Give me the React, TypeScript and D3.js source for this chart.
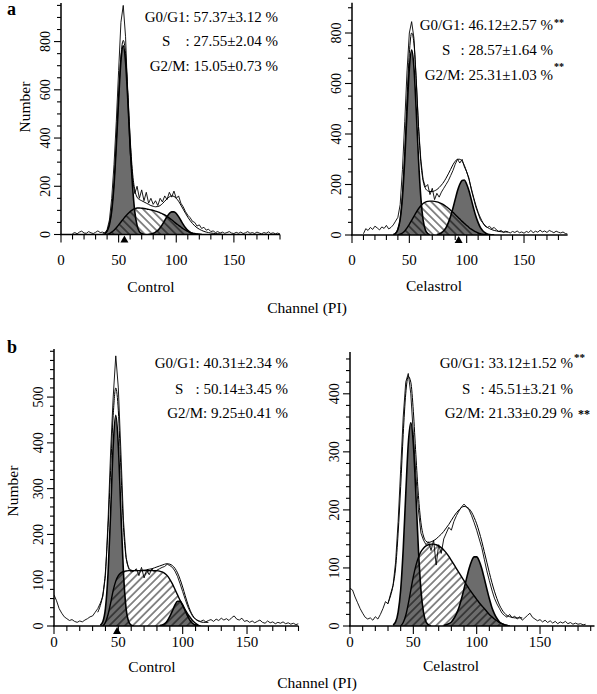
import React from 'react';
import * as d3 from 'd3';

// Channel spacing of every sampled series below
const STEP = 2;

// ---------- Panel a, Control ----------
const aCtrlRawStart = 10;
const aCtrlRaw = [4, 8, 3, 10, 14, 6, 5, 12, 7, 4, 9, 15, 8, 10, 6,
  20, 60, 150, 290, 470, 680, 880, 950, 820, 560,
  340, 230, 170, 200, 150, 185, 140, 175, 130, 150,
  125, 140, 120, 150, 135, 160, 145, 175, 155, 180,
  150, 160, 130, 115, 95, 80, 70, 55, 50, 35,
  40, 25, 30, 18, 22, 12, 15, 8, 12, 6,
  10, 5, 8, 12, 6, 4, 9, 5, 10, 4,
  7, 12, 5, 8, 4, 10, 6, 3, 8, 5,
  11, 4, 7, 3, 6, 2];
const aCtrlModelStart = 36;
const aCtrlModel = [2, 6, 16, 45, 105, 215, 380, 575, 740, 805, 750, 590, 400, 260, 185, 155, 145, 140, 135, 130,
  125, 120, 117, 115, 116, 120, 128, 138, 148, 156, 160, 158, 150, 138, 122, 105, 88, 72, 58, 46,
  36, 28, 22, 17, 13, 10, 8, 6, 5, 4, 3, 2, 1];
const aCtrlG1Start = 38;
const aCtrlG1 = [4, 14, 40, 98, 205, 370, 560, 720, 782, 715, 555, 365, 205, 95, 38, 12, 4, 0];
const aCtrlSStart = 40;
const aCtrlS = [0, 4, 10, 18, 28, 40, 52, 64, 76, 86, 95, 102, 107, 110, 110, 109, 108, 106, 104, 102,
  100, 97, 94, 90, 86, 81, 75, 68, 61, 53, 45, 38, 31, 24, 18, 13, 9, 6, 4, 2, 1, 0];
const aCtrlG2Start = 76;
const aCtrlG2 = [1, 2, 5, 10, 17, 28, 42, 58, 74, 87, 94, 94, 87, 74, 58, 42, 28, 17, 10, 5, 2, 1, 0, 0];
const aCtrlStats = ['57.37±3.12 %', '27.55±2.04 %', '15.05±0.73 %'];
const aCtrlSig = ['', '', ''];
const aCtrlMarker = 55;

// ---------- Panel a, Celastrol ----------
const aTrtRawStart = 10;
const aTrtRaw = [5, 25, 18, 30, 22, 35, 28, 20, 32, 26, 38, 24, 30, 40, 55,
  70, 120, 260, 450, 650, 800, 845, 780, 620, 430,
  300, 220, 190, 200, 160, 185, 140, 165, 150, 170,
  185, 200, 215, 235, 255, 280, 300, 285, 300, 270,
  250, 225, 180, 145, 110, 85, 60, 48, 35, 30,
  34, 25, 30, 20, 14, 18, 10, 15, 12, 8,
  14, 10, 16, 9, 12, 7, 14, 10, 18, 9,
  15, 11, 19, 12, 16, 10, 18, 14, 9, 15,
  11, 8, 12, 6, 4];
const aTrtModelStart = 36;
const aTrtModel = [3, 8, 25, 65, 165, 330, 540, 720, 800, 760, 610, 430, 290, 215, 185, 175, 172, 172, 175, 180,
  188, 198, 210, 225, 242, 260, 278, 292, 300, 300, 292, 275, 250, 220, 185, 150, 118, 90, 68, 50,
  38, 30, 25, 21, 18, 16, 14, 13, 12, 12, 12];
const aTrtG1Start = 36;
const aTrtG1 = [1, 6, 22, 62, 150, 300, 490, 660, 732, 665, 495, 300, 150, 60, 20, 6, 1];
const aTrtSStart = 40;
const aTrtS = [0, 3, 8, 16, 28, 42, 58, 74, 90, 104, 116, 125, 130, 133, 134, 134, 133, 131, 128, 124,
  119, 113, 106, 98, 90, 81, 72, 63, 54, 46, 38, 30, 23, 17, 12, 8, 5, 3, 1, 0];
const aTrtG2Start = 74;
const aTrtG2 = [2, 4, 9, 17, 29, 49, 74, 106, 141, 175, 201, 216, 218, 201, 175, 141, 106, 74, 49, 29,
  17, 9, 4, 2, 1, 0];
const aTrtStats = ['46.12±2.57 %', '28.57±1.64 %', '25.31±1.03 %'];
const aTrtSig = ['**', '', '**'];
const aTrtMarker = 93;

// ---------- Panel b, Control ----------
const bCtrlRawStart = 0;
const bCtrlRaw = [68, 55, 38, 28, 20, 16, 12, 14, 10, 8, 11, 9, 13, 16, 20, 22, 30, 38, 50, 65,
  110, 230, 380, 500, 590, 520, 380, 230, 150, 125,
  118, 120, 125, 110, 128, 105, 122, 112, 125, 118,
  122, 125, 128, 130, 135, 132, 128, 120, 108, 92,
  75, 58, 42, 30, 20, 15, 12, 10, 13, 9,
  12, 14, 10, 15, 12, 17, 13, 16, 12, 18,
  22, 15, 13, 17, 10, 12, 8, 11, 7, 10,
  13, 8, 6, 11, 7, 9, 5, 8, 6, 9,
  5, 7, 4, 6, 3, 5];
const bCtrlModelStart = 34;
const bCtrlModel = [30, 45, 70, 120, 215, 340, 460, 520, 470, 340, 215, 150, 128, 122, 121, 121, 121, 122, 122, 123,
  124, 125, 127, 129, 131, 133, 135, 136, 135, 132, 126, 116, 102, 85, 66, 48, 33, 22, 15, 11,
  9, 8, 8, 8];
const bCtrlG1Start = 36;
const bCtrlG1 = [2, 10, 39, 115, 248, 394, 460, 394, 248, 115, 39, 10, 2, 0];
const bCtrlSStart = 38;
const bCtrlS = [0, 8, 25, 50, 78, 98, 110, 116, 119, 120, 121, 121, 121, 121, 121, 121, 121, 121, 121, 121,
  121, 121, 120, 118, 115, 110, 102, 92, 80, 68, 56, 45, 35, 26, 18, 11, 6, 2, 0];
const bCtrlG2Start = 82;
const bCtrlG2 = [1, 2, 5, 11, 21, 33, 46, 54, 54, 46, 33, 21, 11, 5, 2, 1];
const bCtrlStats = ['40.31±2.34 %', '50.14±3.45 %', '9.25±0.41 %'];
const bCtrlSig = ['', '', ''];
const bCtrlMarker = 49;

// ---------- Panel b, Celastrol ----------
const bTrtRawStart = 0;
const bTrtRaw = [65, 62, 50, 40, 30, 22, 15, 12, 14, 10, 16, 12, 20, 30, 42, 38, 55, 70, 110, 180,
  270, 360, 420, 435, 400, 330, 260, 200, 160, 148,
  140, 145, 130, 148, 105, 140, 125, 150, 160, 170,
  165, 180, 190, 198, 205, 210, 205, 200, 190, 178,
  165, 150, 135, 115, 95, 78, 62, 48, 38, 30,
  22, 18, 15, 20, 14, 17, 12, 16, 10, 14,
  18, 22, 15, 12, 9, 11, 7, 10, 6, 9,
  5, 8, 4, 7, 5, 8, 4, 6, 3, 5,
  3, 4, 2, 3];
const bTrtModelStart = 30;
const bTrtModel = [40, 52, 70, 100, 160, 240, 330, 400, 430, 420, 370, 295, 225, 178, 155, 146, 144, 145, 147, 150,
  154, 158, 163, 169, 175, 182, 189, 195, 200, 204, 206, 205, 202, 196, 187, 176, 162, 146, 128, 110,
  92, 75, 60, 47, 36, 28, 22, 18, 16, 15, 14, 14, 14, 14];
const bTrtG1Start = 34;
const bTrtG1 = [2, 7, 24, 62, 132, 227, 314, 350, 314, 227, 132, 62, 24, 7, 2, 0];
const bTrtSStart = 40;
const bTrtS = [0, 6, 18, 38, 62, 85, 104, 118, 128, 134, 138, 140, 141, 141, 140, 138, 135, 131, 126, 120,
  113, 106, 99, 92, 85, 78, 71, 64, 58, 52, 46, 40, 35, 30, 25, 20, 16, 12, 9, 6,
  4, 2, 1, 0];
const bTrtG2Start = 74;
const bTrtG2 = [1, 2, 4, 7, 13, 21, 32, 47, 64, 82, 99, 112, 119, 119, 112, 99, 82, 64, 47, 32,
  21, 13, 7, 4, 2, 1, 0];
const bTrtStats = ['33.12±1.52 %', '45.51±3.21 %', '21.33±0.29 %'];
const bTrtSig = ['**', '', '**'];
const bTrtMarker: number | null = null;

// ---------- Shared labels / ticks ----------
const phaseLabels = ['G0/G1', 'S', 'G2/M'];
const xTickLabels = [0, 50, 100, 150];
const aYTicks = [0, 200, 400, 600, 800];
const bCtrlYTicks = [0, 100, 200, 300, 400, 500];
const bTrtYTicks = [0, 100, 200, 300, 400];
const groupNames = ['Control', 'Celastrol'];
const rowLetters = ['a', 'b'];
const yTitle = 'Number';
const xTitle = 'Channel (PI)';

const FONT = "'Liberation Serif', 'Times New Roman', Times, serif";
const GRAY = '#6c6c6c';

type Pt = { c: number; v: number };
const toPts = (start: number, vals: number[]): Pt[] => vals.map((v, i) => ({ c: start + i * STEP, v }));

const panels = [
  {
    id: 'aC', raw: [aCtrlRawStart, aCtrlRaw], model: [aCtrlModelStart, aCtrlModel], g1: [aCtrlG1Start, aCtrlG1],
    s: [aCtrlSStart, aCtrlS], g2: [aCtrlG2Start, aCtrlG2], stats: aCtrlStats, sig: aCtrlSig, marker: aCtrlMarker,
    yTicks: aYTicks, yMinor: 50, name: groupNames[0],
    xEnd: 190, yMax: 960, x0: 61, x1: 280, yBase: 234.5, yTop: 3, hatch: 'hatchA',
    textEnd: 278, sX: 162, textY: [22, 46, 71], sigX: [0, 0, 0], sigY: [0, 0, 0], sigSize: [10, 10, 10],
    tickDy: 30, nameX: 151, nameY: 292,
  },
  {
    id: 'aT', raw: [aTrtRawStart, aTrtRaw], model: [aTrtModelStart, aTrtModel], g1: [aTrtG1Start, aTrtG1],
    s: [aTrtSStart, aTrtS], g2: [aTrtG2Start, aTrtG2], stats: aTrtStats, sig: aTrtSig, marker: aTrtMarker,
    yTicks: aYTicks, yMinor: 50, name: groupNames[1],
    xEnd: 188, yMax: 920, x0: 352, x1: 567.6, yBase: 235, yTop: 2.7, hatch: 'hatchA',
    textEnd: 553, sX: 442, textY: [29.5, 55, 80], sigX: [554, 0, 554], sigY: [26, 0, 70], sigSize: [10, 10, 10],
    tickDy: 30, nameX: 434, nameY: 291,
  },
  {
    id: 'bC', raw: [bCtrlRawStart, bCtrlRaw], model: [bCtrlModelStart, bCtrlModel], g1: [bCtrlG1Start, bCtrlG1],
    s: [bCtrlSStart, bCtrlS], g2: [bCtrlG2Start, bCtrlG2], stats: bCtrlStats, sig: bCtrlSig, marker: bCtrlMarker,
    yTicks: bCtrlYTicks, yMinor: 20, name: groupNames[0],
    xEnd: 190, yMax: 605, x0: 54, x1: 298.5, yBase: 626, yTop: 349, hatch: 'hatchB',
    textEnd: 288, sX: 175, textY: [368, 394, 418], sigX: [0, 0, 0], sigY: [0, 0, 0], sigSize: [10, 10, 10],
    tickDy: 21, nameX: 152, nameY: 672,
  },
  {
    id: 'bT', raw: [bTrtRawStart, bTrtRaw], model: [bTrtModelStart, bTrtModel], g1: [bTrtG1Start, bTrtG1],
    s: [bTrtSStart, bTrtS], g2: [bTrtG2Start, bTrtG2], stats: bTrtStats, sig: bTrtSig, marker: bTrtMarker,
    yTicks: bTrtYTicks, yMinor: 20, name: groupNames[1],
    xEnd: 193, yMax: 472, x0: 350, x1: 594.5, yBase: 626, yTop: 352, hatch: 'hatchB',
    textEnd: 573, sX: 462, textY: [368, 394, 418], sigX: [574, 0, 578], sigY: [361, 0, 418], sigSize: [11, 11, 12],
    tickDy: 21, nameX: 451, nameY: 671,
  },
];

function Panel({ p }: { p: any }) {
  const x = d3.scaleLinear().domain([0, p.xEnd]).range([p.x0, p.x1]);
  const y = d3.scaleLinear().domain([0, p.yMax]).range([p.yBase, p.yTop]);
  const raw = toPts(p.raw[0], p.raw[1]);
  const model = toPts(p.model[0], p.model[1]);
  const g1 = toPts(p.g1[0], p.g1[1]);
  const s = toPts(p.s[0], p.s[1]);
  const g2 = toPts(p.g2[0], p.g2[1]);

  const area = d3.area<Pt>().x(d => x(d.c)).y0(y(0)).y1(d => y(d.v)).curve(d3.curveMonotoneX);
  const smooth = d3.line<Pt>().x(d => x(d.c)).y(d => y(d.v)).curve(d3.curveMonotoneX);
  const jag = d3.line<Pt>().x(d => x(d.c)).y(d => y(Math.min(d.v, p.yMax))).curve(d3.curveLinear);

  const xMinor = d3.range(0, p.xEnd + 0.01, 10);
  const yMinor = d3.range(0, p.yMax + 0.01, p.yMinor);
  const clipId = `clip-${p.id}`;
  const base = y(0);

  return (
    <g>
      <defs>
        <clipPath id={clipId}>
          <rect x={p.x0} y={p.yTop - 2} width={p.x1 - p.x0} height={base - p.yTop + 2} />
        </clipPath>
      </defs>
      <g clipPath={`url(#${clipId})`}>
        <path d={area(s) || ''} fill="#fff" />
        <path d={area(g1) || ''} fill={GRAY} />
        <path d={area(g2) || ''} fill={GRAY} />
        <path d={area(s) || ''} fill={`url(#${p.hatch})`} />
        <path d={smooth(s) || ''} fill="none" stroke="#000" strokeWidth={1.4} />
        <path d={smooth(g1) || ''} fill="none" stroke="#000" strokeWidth={1.6} />
        <path d={smooth(g2) || ''} fill="none" stroke="#000" strokeWidth={1.6} />
        <path d={smooth(model) || ''} fill="none" stroke="#000" strokeWidth={1} />
        <path d={jag(raw) || ''} fill="none" stroke="#000" strokeWidth={0.9} />
      </g>
      <line x1={p.x0} x2={p.x0} y1={base} y2={p.yTop} stroke="#000" strokeWidth={1.5} />
      <line x1={p.x0 - 1} x2={p.x1} y1={base} y2={base} stroke="#000" strokeWidth={1.6} />
      {xMinor.map(t => (
        <line key={`xt${t}`} x1={x(t)} x2={x(t)} y1={base} y2={base + (t % 50 === 0 ? 8 : 5)} stroke="#000" strokeWidth={1.1} />
      ))}
      {yMinor.map(t => (
        <line key={`yt${t}`} x1={p.x0} x2={p.x0 - (p.yTicks.includes(t) ? 7 : 4)} y1={y(t)} y2={y(t)} stroke="#000" strokeWidth={1.1} />
      ))}
      {xTickLabels.map(t => (
        <text key={`xl${t}`} x={x(t)} y={base + p.tickDy} textAnchor="middle" fontSize={15} fontFamily={FONT}>{t}</text>
      ))}
      {p.yTicks.map((t: number) => (
        <text key={`yl${t}`} transform={`translate(${p.x0 - 11},${y(t)}) rotate(-90)`} textAnchor="middle" fontSize={14} fontFamily={FONT}>{t}</text>
      ))}
      {p.marker != null && (
        <path d={`M${x(p.marker)},${base + 1} L${x(p.marker) - 4},${base + 8} L${x(p.marker) + 4},${base + 8} Z`} fill="#000" />
      )}
      {phaseLabels.map((lab, i) => (
        i === 1 ? (
          <g key={lab}>
            <text x={p.sX} y={p.textY[i]} fontSize={15} fontFamily={FONT}>{lab}</text>
            <text x={p.textEnd} y={p.textY[i]} textAnchor="end" fontSize={15} fontFamily={FONT}>{`: ${p.stats[i]}`}</text>
          </g>
        ) : (
          <text key={lab} x={p.textEnd} y={p.textY[i]} textAnchor="end" fontSize={15} fontFamily={FONT}>{`${lab}: ${p.stats[i]}`}</text>
        )
      ))}
      {p.sig.map((sg: string, i: number) => sg ? (
        <text key={`sg${i}`} x={p.sigX[i]} y={p.sigY[i]} fontSize={p.sigSize[i]} fontWeight="bold" fontFamily={FONT} fill="#000">{sg}</text>
      ) : null)}
      <text x={p.nameX} y={p.nameY} textAnchor="middle" fontSize={15.5} fontFamily={FONT}>{p.name}</text>
    </g>
  );
}

export default function App() {
  return (
    <svg width={597} height={694} viewBox="0 0 597 694" style={{ position: 'absolute', left: 0, top: 0, background: '#fff' }}>
      <defs>
        <pattern id="hatchA" patternUnits="userSpaceOnUse" width={5.5} height={5.5} patternTransform="rotate(-45)">
          <line x1={2.75} y1={0} x2={2.75} y2={5.5} stroke="#000" strokeWidth={0.9} />
        </pattern>
        <pattern id="hatchB" patternUnits="userSpaceOnUse" width={5.5} height={5.5} patternTransform="rotate(45)">
          <line x1={2.75} y1={0} x2={2.75} y2={5.5} stroke="#000" strokeWidth={0.9} />
        </pattern>
      </defs>
      <rect x={0} y={0} width={597} height={694} fill="#fff" />
      {panels.map(p => <Panel key={p.id} p={p} />)}
      <text x={7} y={15} fontSize={18} fontWeight="bold" fontFamily={FONT}>{rowLetters[0]}</text>
      <text x={7} y={353} fontSize={18} fontWeight="bold" fontFamily={FONT}>{rowLetters[1]}</text>
      <text transform="translate(30,107) rotate(-90)" textAnchor="middle" fontSize={15.5} fontFamily={FONT}>{yTitle}</text>
      <text transform="translate(18,491) rotate(-90)" textAnchor="middle" fontSize={15.5} fontFamily={FONT}>{yTitle}</text>
      <text x={307} y={313} textAnchor="middle" fontSize={15.5} fontFamily={FONT}>{xTitle}</text>
      <text x={317} y={688} textAnchor="middle" fontSize={15.5} fontFamily={FONT}>{xTitle}</text>
    </svg>
  );
}
